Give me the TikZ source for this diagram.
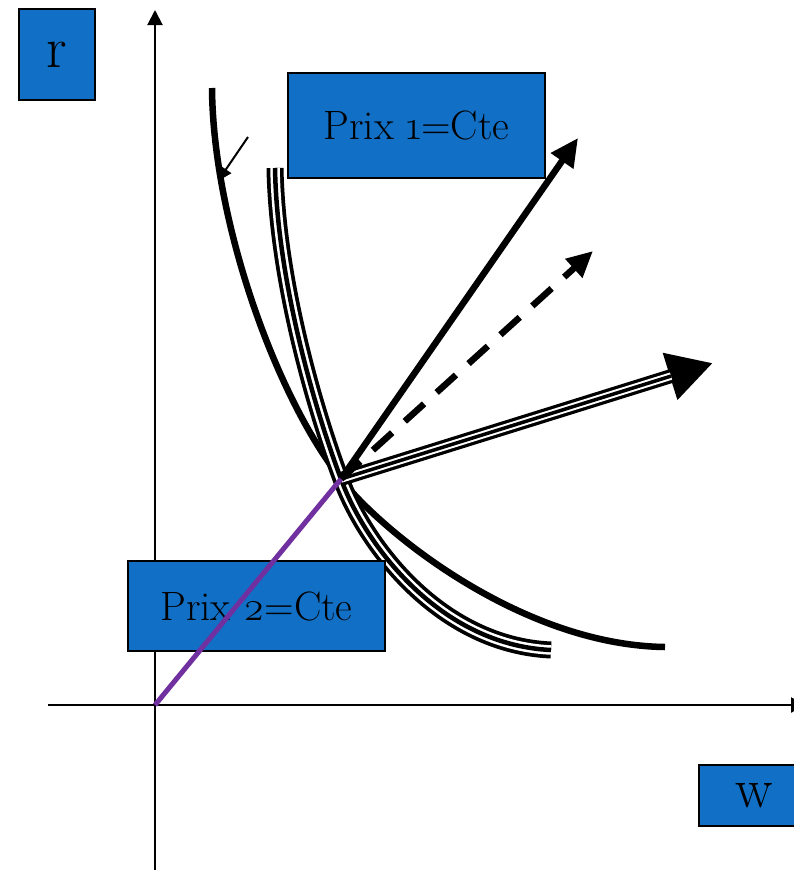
\documentclass[tikz,border=0pt]{standalone}
\usepackage{fontspec}
\setmainfont{Latin Modern Roman}[Numbers=OldStyle]
\usetikzlibrary{arrows.meta}
\definecolor{boxblue}{RGB}{17,112,198}
\definecolor{purp}{RGB}{112,48,160}
\begin{document}
\begin{tikzpicture}[x=1pt,y=-1pt,
  lblbox/.style={draw=black, line width=1.5pt, fill=boxblue, inner sep=0pt},
  axisline/.style={line width=2pt, -{Triangle[length=15pt,width=15pt]}},
  curvethick/.style={line width=6.5pt, line cap=butt},
]
\useasboundingbox (0,0) rectangle (794,870);
\clip (0,0) rectangle (794,870);
\fill[white] (0,0) rectangle (794,870);

\coordinate (O) at (155,705);
\coordinate (P) at (341,479);
\coordinate (Ytop) at (155,10);
\coordinate (Ybot) at (155,872);
\coordinate (Xl) at (48,705);
\coordinate (Xr) at (806,705);
\coordinate (A1) at (578,138);
\coordinate (A2) at (593,251);
\coordinate (A3) at (713,363);
\coordinate (S1) at (248,137);
\coordinate (S2) at (218,181);
\coordinate (C1s) at (212,88);
\coordinate (C1e) at (665,647);
\coordinate (C2s) at (275,168);
\coordinate (C2e) at (551,650);

% axes
\draw[axisline] (Ybot) -- (Ytop);
\draw[axisline] (Xl) -- (Xr);

% single curve
\draw[curvethick] (C1s) .. controls (213,220) and (275,395) .. (P)
  .. controls (380,530) and (520,645) .. (C1e);

% triple curve
\def\triplecurve{(C2s) .. controls (277,280) and (315,410) .. (P) .. controls (365,545) and (440,645) .. (C2e)}
\draw[line width=17pt] \triplecurve;
\draw[line width=9.5pt, white] \triplecurve;
\draw[line width=4.5pt] \triplecurve;

% triple arrow
\draw[line width=14pt, -{Triangle[length=45pt,width=46pt]}] (P) -- (A3);
\draw[line width=7.5pt, white, shorten >=44pt] (P) -- (A3);
\draw[line width=3.5pt, shorten >=44pt] (P) -- (A3);

% thick arrow
\draw[line width=6.5pt, -{Triangle[length=28pt,width=26pt]}] (P) -- (A1);
% dashed arrow
\draw[line width=6.5pt, dash pattern=on 26pt off 17pt, -{Triangle[length=26pt,width=24pt]}] (P) -- (A2);

% small arrow
\draw[line width=2pt, -{Triangle[length=14pt,width=13pt]}] (S1) -- (S2);

% boxes
\node[lblbox, minimum width=76pt, minimum height=91pt] (r) at (57,54.5) {\fontsize{58}{58}\selectfont r};
\node[lblbox, minimum width=257pt, minimum height=105pt] (p1) at (416.5,125.5) {\fontsize{41}{44}\selectfont Prix 1=Cte};
\node[lblbox, minimum width=257pt, minimum height=90pt] (p2) at (256.5,606) {\fontsize{41}{44}\selectfont Prix 2=Cte};
\node[lblbox, minimum width=110pt, minimum height=61pt] (w) at (754,795.5) {\fontsize{56}{56}\selectfont w};

% purple ray
\draw[purp, line width=5pt] (O) -- (P);
\end{tikzpicture}
\end{document}
